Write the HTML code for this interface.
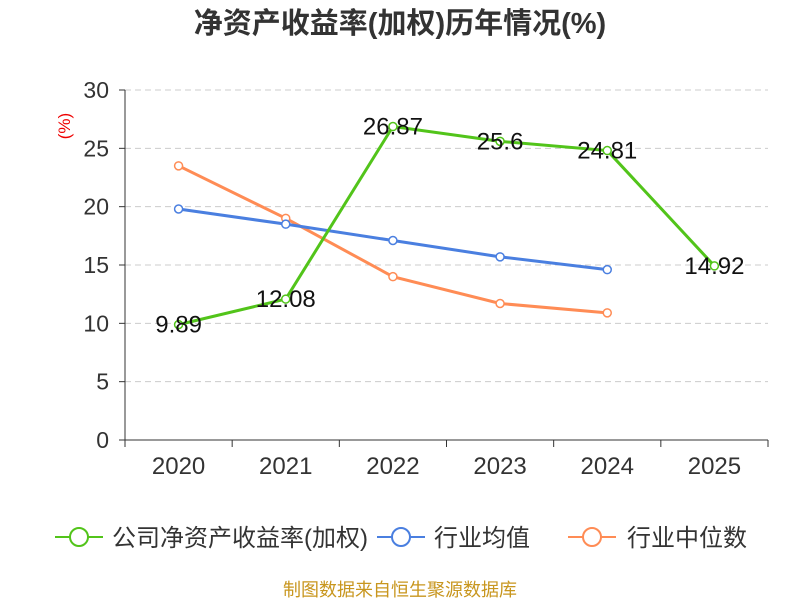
<!DOCTYPE html>
<html><head><meta charset="utf-8"><style>
body{margin:0;background:#fff;font-family:"Liberation Sans","Noto Sans CJK SC",sans-serif;}
svg text{font-family:"Liberation Sans","Noto Sans CJK SC",sans-serif;}
</style></head><body>
<svg id="c" width="800" height="600">
<text x="400" y="33" text-anchor="middle" font-size="29" font-weight="bold" fill="#333">净资产收益率(加权)历年情况(%)</text>
<text x="70" y="126" text-anchor="middle" font-size="17" fill="#e00" transform="rotate(-90 70 126)">(%)</text>
<g id="grid"></g><g id="axes"></g><g id="series"></g>
<g>
<g><line x1="55" y1="537" x2="103" y2="537" stroke="#52c41a" stroke-width="2"/><circle cx="79" cy="537" r="9" fill="#fff" stroke="#52c41a" stroke-width="2"/><text x="112" y="546" font-size="24" fill="#333">公司净资产收益率(加权)</text></g>
<g><line x1="377" y1="537" x2="425" y2="537" stroke="#4a7fe0" stroke-width="2"/><circle cx="401" cy="537" r="9" fill="#fff" stroke="#4a7fe0" stroke-width="2"/><text x="434" y="546" font-size="24" fill="#333">行业均值</text></g>
<g><line x1="568" y1="537" x2="616" y2="537" stroke="#ff8c55" stroke-width="2"/><circle cx="592" cy="537" r="9" fill="#fff" stroke="#ff8c55" stroke-width="2"/><text x="627" y="546" font-size="24" fill="#333">行业中位数</text></g>
</g>
<text x="400" y="596" text-anchor="middle" font-size="18" fill="#c8961e">制图数据来自恒生聚源数据库</text>
</svg>
<script>
const categories=["2020","2021","2022","2023","2024","2025"];
const companyValues=[9.89,12.08,26.87,25.6,24.81,14.92];
const companyLabels=["9.89","12.08","26.87","25.6","24.81","14.92"];
const industryAvg=[19.8,18.5,17.1,15.7,14.6];
const industryMedian=[23.5,19.0,14.0,11.7,10.9];
const yTicks=[0,5,10,15,20,25,30];
const NS="http://www.w3.org/2000/svg";
const X0=125,X1=768,Y0=440,Y1=90,YMAX=30;
const bw=(X1-X0)/categories.length;
const xs=i=>X0+bw*(i+0.5);
const ys=v=>Y0-(v/YMAX)*(Y0-Y1);
function mk(t,a,p){const e=document.createElementNS(NS,t);for(const k in a)e.setAttribute(k,a[k]);p.appendChild(e);return e;}
const grid=document.getElementById('grid'),axes=document.getElementById('axes'),ser=document.getElementById('series');
yTicks.forEach(v=>{
 if(v>0){const g=mk('line',{x1:X0,x2:X1,y1:ys(v),y2:ys(v),stroke:'#ccc','stroke-dasharray':'6,4'},grid);
 
 }
 mk('line',{x1:X0-6,x2:X0,y1:ys(v),y2:ys(v),stroke:'#333'},axes);
 const t=mk('text',{x:X0-16,y:ys(v)+8,'text-anchor':'end','font-size':23,fill:'#333'},axes);t.textContent=v;
 
 
});
mk('line',{x1:X0,x2:X0,y1:Y1,y2:Y0,stroke:'#333'},axes);
mk('line',{x1:X0,x2:X1,y1:Y0,y2:Y0,stroke:'#333'},axes);
for(let i=0;i<=categories.length;i++)mk('line',{x1:X0+bw*i,x2:X0+bw*i,y1:Y0,y2:Y0+7,stroke:'#333'},axes);
categories.forEach((c,i)=>{const t=mk('text',{x:xs(i),y:Y0+34,'text-anchor':'middle','font-size':24,fill:'#333'},axes);t.textContent=c;
 
 });
function line(vals,color,name){
 const g=mk('g',{},ser);
 
 
 mk('polyline',{points:vals.map((v,i)=>xs(i)+','+ys(v)).join(' '),fill:'none',stroke:color,'stroke-width':3},g);
 vals.forEach((v,i)=>{const c=mk('circle',{cx:xs(i),cy:ys(v),r:4,fill:'#fff',stroke:color,'stroke-width':1.5},g);
 
 });
}
line(industryMedian,'#ff8c55','industry-median-line');
line(industryAvg,'#4a7fe0','industry-avg-line');
line(companyValues,'#52c41a','company-roe-line');
companyValues.forEach((v,i)=>{const t=mk('text',{x:xs(i),y:ys(v)+8,'text-anchor':'middle','font-size':24,fill:'#111'},ser);t.textContent=companyLabels[i];
 
 });
</script>
</body></html>
